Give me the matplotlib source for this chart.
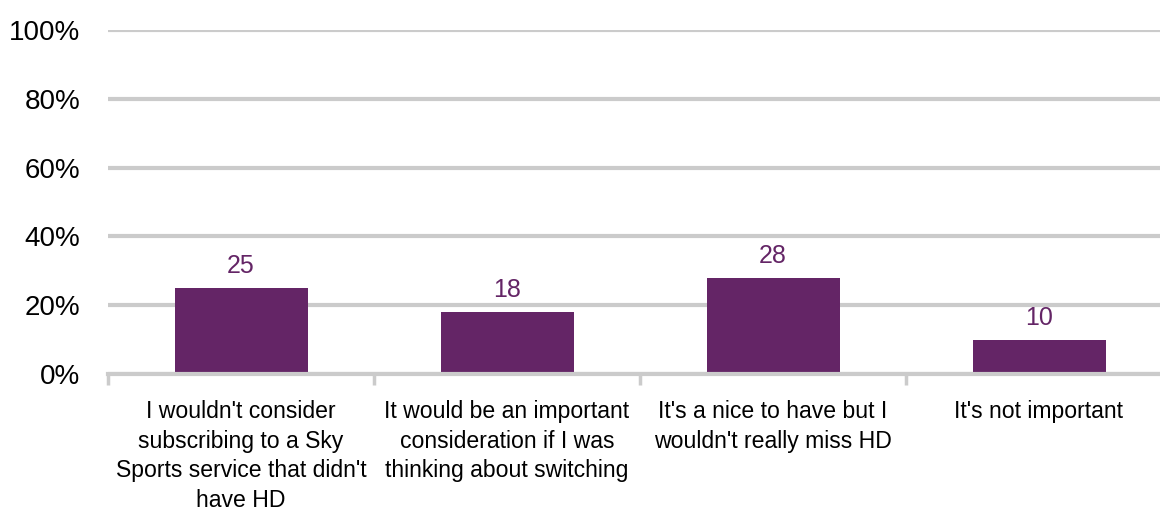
import matplotlib
matplotlib.use("Agg")
import matplotlib.pyplot as plt
from matplotlib.ticker import FixedLocator, FuncFormatter

categories = [
    "I wouldn't consider\nsubscribing to a Sky\nSports service that didn't\nhave HD",
    "It would be an important\nconsideration if I was\nthinking about switching",
    "It's a nice to have but I\nwouldn't really miss HD",
    "It's not important",
]
values = [25, 18, 28, 10]
y_ticks = [0, 20, 40, 60, 80, 100]

BAR = "#642566"
GRID = "#cbcbcb"

plt.rcParams["font.family"] = ["Liberation Sans", "DejaVu Sans"]

fig = plt.figure(figsize=(11.6, 5.14), dpi=100)
# plot area runs past the right edge of the figure, so gridlines bleed off
ax = fig.add_axes([108 / 1160, 140 / 514, 1064 / 1160, 344 / 514])

x = list(range(len(values)))
ax.bar(x, values, width=0.5, color=BAR, zorder=3)
for xi, v in zip(x, values):
    ax.annotate(str(v), (xi, v), xytext=(0, 7), textcoords="offset points",
                ha="center", va="bottom", color=BAR, fontsize=18)

ax.set_xlim(-0.5, len(values) - 0.5)
ax.set_ylim(0, 100)
ax.set_yticks(y_ticks)
ax.yaxis.set_major_formatter(FuncFormatter(lambda v, _: f"{v:.0f}%"))
ax.tick_params(axis="y", length=0, labelsize=20, pad=20)

# category labels centred, tick marks at the category boundaries
ax.xaxis.set_major_locator(FixedLocator([i - 0.5 for i in range(len(values) + 1)]))
ax.xaxis.set_major_formatter(FuncFormatter(lambda v, _: ""))
ax.tick_params(axis="x", which="major", length=8, width=2.5, color=GRID)
ax.xaxis.set_minor_locator(FixedLocator(x))
ax.set_xticklabels(categories, minor=True, fontsize=16.6, linespacing=1.36, va="top")
ax.tick_params(axis="x", which="minor", length=0, pad=19)

ax.grid(axis="y", color=GRID, linewidth=3, zorder=0)
ax.set_axisbelow(True)
for side in ("top", "right", "left"):
    ax.spines[side].set_visible(False)
ax.spines["bottom"].set_color(GRID)
ax.spines["bottom"].set_linewidth(3)
ax.spines["bottom"].set_zorder(4)

fig.savefig("out.png", dpi=100)
